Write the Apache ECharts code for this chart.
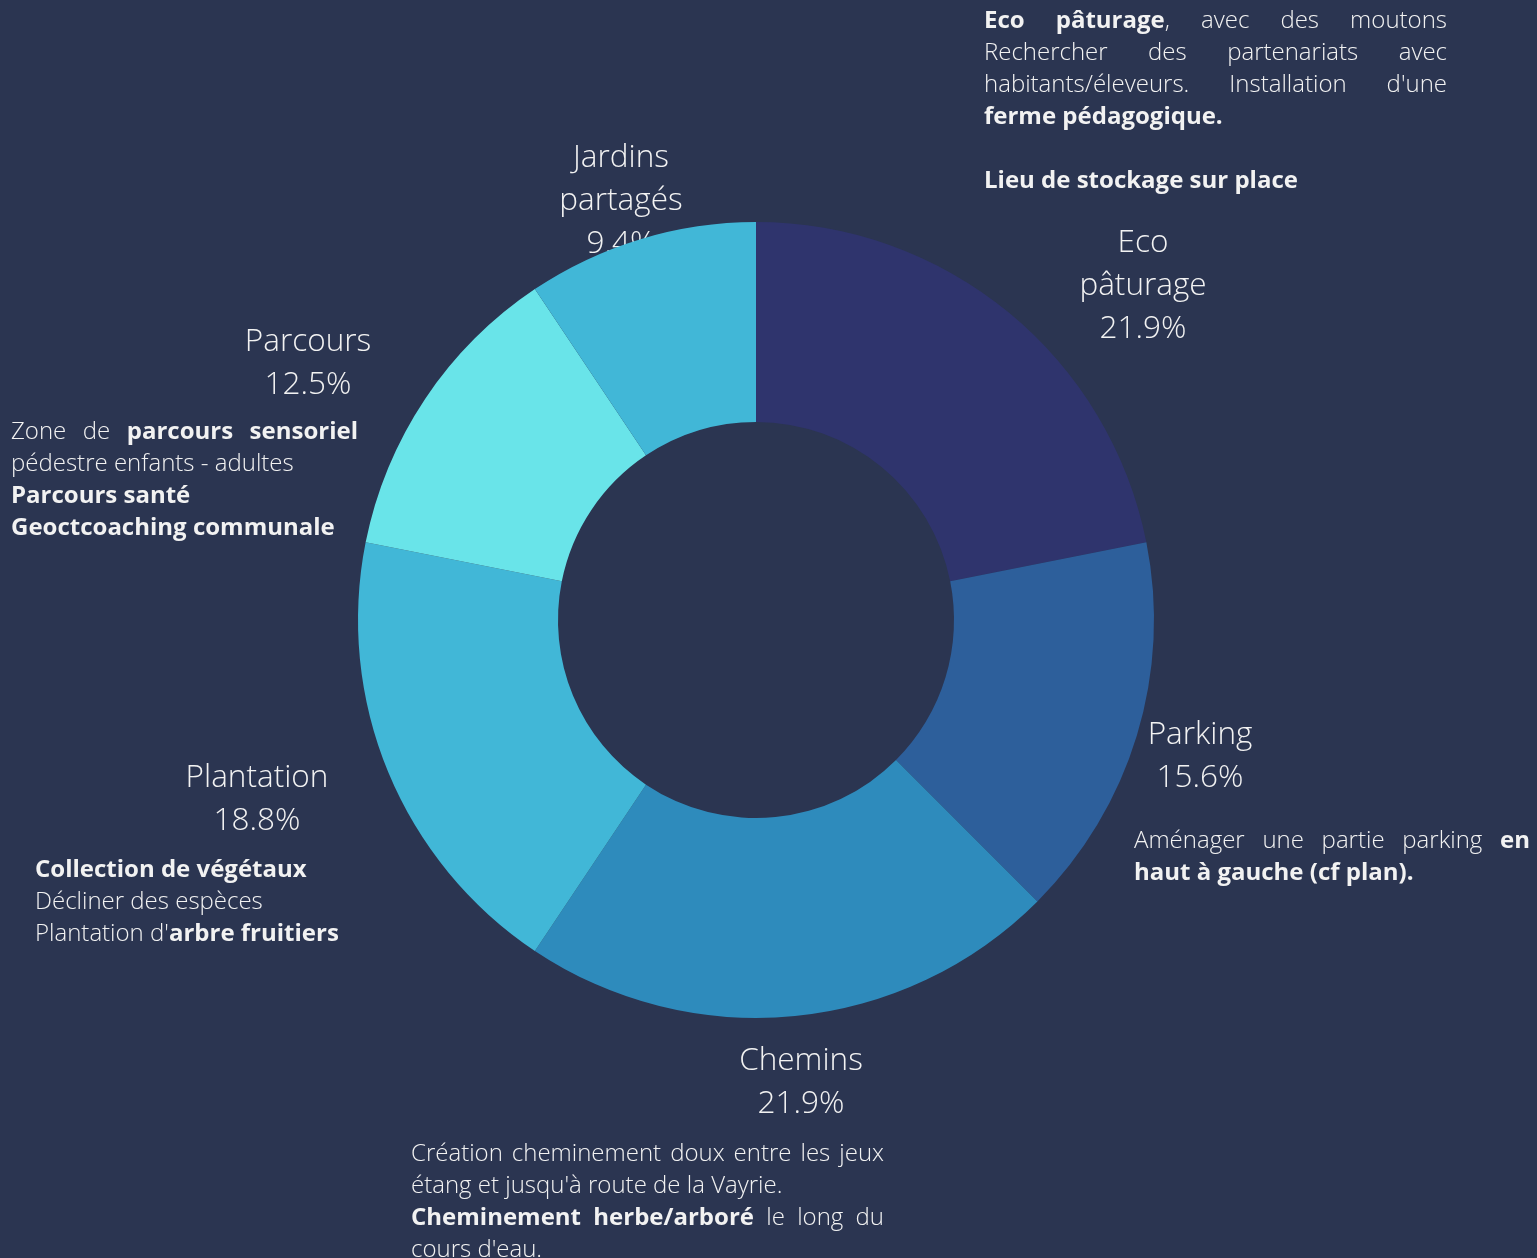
<!DOCTYPE html>
<html>
<head>
<meta charset="utf-8">
<script src="https://cdn.jsdelivr.net/npm/echarts@6/dist/echarts.min.js"></script>
<style>
  html, body { margin: 0; padding: 0; background: #2b3551; }
  #chart { width: 1537px; height: 1258px; }
</style>
</head>
<body>
<div id="chart"></div>
<script>
// data
const names = ['Eco pâturage', 'Parking', 'Chemins', 'Plantation', 'Parcours', 'Jardins partagés'];
const values = [7, 5, 7, 6, 4, 3];

// notes next to each slice (*word* = bold, true = justified line)
const notesEco = [
  ['*Eco* *pâturage*, avec des moutons', true],
  ['Rechercher des partenariats avec', true],
  ["habitants/éleveurs. Installation d'une", true],
  ['*ferme* *pédagogique.*', false],
  ['', false],
  ['*Lieu* *de* *stockage* *sur* *place*', false]
];
const notesParking = [
  ['Aménager une partie parking *en*', true],
  ['*haut* *à* *gauche* *(cf* *plan).*', false]
];
const notesChemins = [
  ['Création cheminement doux entre les jeux', true],
  ["étang et jusqu'à route de la Vayrie.", false],
  ['*Cheminement* *herbe/arboré* le long du', true],
  ["cours d'eau.", false]
];
const notesPlantation = [
  ['*Collection* *de* *végétaux*', false],
  ['Décliner des espèces', false],
  ["Plantation d'*arbre* *fruitiers*", false]
];
const notesParcours = [
  ['Zone de *parcours* *sensoriel*', true],
  ['pédestre enfants - adultes', false],
  ['*Parcours* *santé*', false],
  ['*Geoctcoaching* *communale*', false]
];

// layout / style
const CX = 756, CY = 620;
const colors = ['#2f346d', '#2d5f9b', '#2e8bbc', '#41b7d7', '#69e4e9', '#41b7d7'];
// label centres, offset from pie centre
const labelOffsets = [[387, -334], [444, 137], [45, 463], [-499, 180], [-448, -256], [-135, -419]];
const FONT = '"Open Sans", sans-serif';
const FS = 24, LH = 32;
const TEXT = '#f2f2f2';

const total = values.reduce((a, b) => a + b, 0);
const pieData = names.map((n, i) => ({ name: n, value: values[i] }));

const ctx = document.createElement('canvas').getContext('2d');
function fontOf(bold) { return (bold ? '700 ' : '300 ') + FS + 'px ' + FONT; }
function measure(t, bold) { ctx.font = fontOf(bold); return ctx.measureText(t).width; }

function parseWord(w) {
  const runs = [];
  w.split('*').forEach((p, i) => { if (p) runs.push({ t: p, b: i % 2 === 1 }); });
  return runs;
}

function noteBlock(lines, x0, y0, width) {
  const els = [];
  lines.forEach((ln, li) => {
    const [str, justify] = ln;
    if (!str) return;
    const words = str.split(' ').map(parseWord);
    const widths = words.map(rs => rs.reduce((s, r) => s + measure(r.t, r.b), 0));
    const sum = widths.reduce((a, b) => a + b, 0);
    const y = y0 + li * LH;
    let x = x0;
    words.forEach((rs, wi) => {
      let rx = x;
      rs.forEach(r => {
        els.push({
          type: 'text', x: rx, y: y, silent: true,
          style: { text: r.t, font: fontOf(r.b), fill: TEXT, align: 'left', verticalAlign: 'middle' }
        });
        rx += measure(r.t, r.b);
      });
      const last = rs[rs.length - 1];
      const gap = justify && words.length > 1
        ? (width - sum) / (words.length - 1)
        : measure(' ', last.b);
      x += widths[wi] + gap;
    });
  });
  return els;
}

const chart = echarts.init(document.getElementById('chart'));

const option = {
  backgroundColor: '#2b3551',
  animation: false,
  graphic: [].concat(
    noteBlock(notesEco, 984, 21, 463),
    noteBlock(notesParcours, 11, 432, 347),
    noteBlock(notesParking, 1134, 841, 396),
    noteBlock(notesChemins, 411, 1154, 473),
    noteBlock(notesPlantation, 35, 870, 305)
  ),
  series: [
    {
      // labels only, drawn below the ring
      type: 'pie',
      z: 1,
      silent: true,
      center: [CX, CY],
      radius: [198, 398],
      startAngle: 90,
      data: pieData,
      itemStyle: { color: 'rgba(0,0,0,0)' },
      labelLine: { show: false },
      label: {
        show: true,
        position: 'outside',
        color: TEXT,
        fontFamily: FONT,
        fontWeight: 300,
        fontSize: 31.5,
        lineHeight: 43,
        align: 'center',
        formatter: p => p.name.split(' ').join('\n') + '\n' +
          (Math.round(p.value / total * 1000) / 10).toFixed(1) + '%'
      },
      labelLayout: p => ({
        x: CX + labelOffsets[p.dataIndex][0],
        y: CY + labelOffsets[p.dataIndex][1],
        align: 'center',
        verticalAlign: 'middle'
      })
    },
    {
      type: 'pie',
      z: 2,
      center: [CX, CY],
      radius: [198, 398],
      startAngle: 90,
      data: pieData,
      color: colors,
      itemStyle: { borderWidth: 0 },
      label: { show: false },
      labelLine: { show: false },
      emphasis: { disabled: true }
    }
  ]
};

chart.setOption(option);
</script>
</body>
</html>
